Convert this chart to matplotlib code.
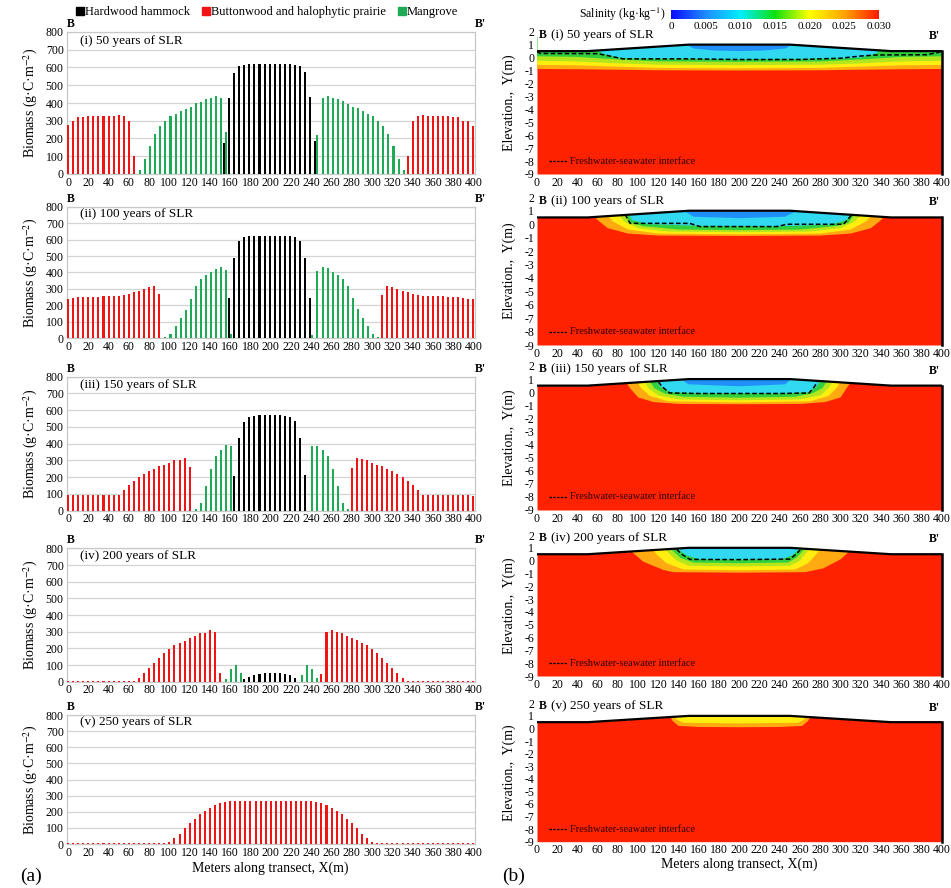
import numpy as np
import matplotlib
matplotlib.use('Agg')
import matplotlib.pyplot as plt
from matplotlib.colors import LinearSegmentedColormap, Normalize
from matplotlib.cm import ScalarMappable
from matplotlib.lines import Line2D

plt.rcParams['font.family'] = ['Liberation Serif', 'DejaVu Serif']
plt.rcParams['mathtext.fontset'] = 'stix'
plt.rcParams['axes.unicode_minus'] = False

# ---------------- DATA: biomass (g C m-2) at 5 m spacing, x = 0..400 ----------------
x_pos = np.arange(0, 401, 5)

hammock_i = [0,0,0,0,0,0,0,0,0,0, 0,0,0,0,0,0,0,0,0,0, 0,0,0,0,0,0,0,0,0,0,
             0,175,430,570,610,615,620,620,620,620, 620,620,620,620,620,615,610,575,435,185,
             0,0,0,0,0,0,0,0,0,0, 0,0,0,0,0,0,0,0,0,0, 0,0,0,0,0,0,0,0,0,0, 0]
button_i = [275,300,320,320,325,325,325,325,325,325, 330,325,300,100,0,0,0,0,0,0,
            0,0,0,0,0,0,0,0,0,0, 0,0,0,0,0,0,0,0,0,0, 0,0,0,0,0,0,0,0,0,0,
            0,0,0,0,0,0,0,0,0,0, 0,0,0,0,0,0,0,100,300,325,
            330,325,325,325,325,325,320,320,300,300, 270]
mangrove_i = [0,0,0,0,0,0,0,0,0,0, 0,0,0,0,20,85,160,225,270,300,
              325,340,355,365,380,400,405,420,430,440, 430,235,0,0,0,0,0,0,0,0,
              0,0,0,0,0,0,0,0,0,220, 430,440,430,420,410,395,380,370,355,340,
              325,300,270,225,160,85,20,0,0,0, 0,0,0,0,0,0,0,0,0,0, 0]

hammock_ii = [0,0,0,0,0,0,0,0,0,0, 0,0,0,0,0,0,0,0,0,0, 0,0,0,0,0,0,0,0,0,0,
              0,0,245,490,590,615,620,620,620,620, 620,620,620,620,620,615,590,490,245,0,
              0,0,0,0,0,0,0,0,0,0, 0,0,0,0,0,0,0,0,0,0, 0,0,0,0,0,0,0,0,0,0, 0]
button_ii = [240,245,250,250,250,250,250,255,255,255, 255,265,270,280,290,300,310,315,270,0,
             0,0,0,0,0,0,0,0,0,0, 0,0,0,0,0,0,0,0,0,0, 0,0,0,0,0,0,0,0,0,0,
             0,0,0,0,0,0,0,0,0,0, 0,0,265,315,310,300,290,280,270,265,
             260,255,255,255,255,250,250,250,245,240, 240]
mangrove_ii = [0,0,0,0,0,0,0,0,0,0, 0,0,0,0,0,0,0,0,0,5,
               25,75,125,175,240,315,360,385,405,420, 435,415,25,0,0,0,0,0,0,0,
               0,0,0,0,0,0,0,0,20,410, 435,425,400,385,360,315,245,180,125,75,
               25,5,0,0,0,0,0,0,0,0, 0,0,0,0,0,0,0,0,0,0, 0]

hammock_iii = [0,0,0,0,0,0,0,0,0,0, 0,0,0,0,0,0,0,0,0,0, 0,0,0,0,0,0,0,0,0,0,
               0,0,0,210,435,530,560,565,570,570, 570,570,570,565,560,535,435,215,0,0,
               0,0,0,0,0,0,0,0,0,0, 0,0,0,0,0,0,0,0,0,0, 0,0,0,0,0,0,0,0,0,0, 0]
button_iii = [95,95,95,95,95,95,95,95,95,95, 95,125,155,180,200,220,235,250,265,275,
              285,300,305,315,260,0,0,0,0,0, 0,0,0,0,0,0,0,0,0,0, 0,0,0,0,0,0,0,0,0,0,
              0,0,0,0,0,0,255,315,310,300, 285,275,265,250,235,220,200,180,155,125,
              95,95,95,95,95,95,95,95,95,95, 90]
mangrove_iii = [0,0,0,0,0,0,0,0,0,0, 0,0,0,0,0,0,0,0,0,0,
                0,0,0,0,0,10,45,150,250,325, 365,390,385,0,0,0,0,0,0,0,
                0,0,0,0,0,0,0,0,385,385, 365,325,250,150,45,10,0,0,0,0,
                0,0,0,0,0,0,0,0,0,0, 0,0,0,0,0,0,0,0,0,0, 0]

hammock_iv = [0,0,0,0,0,0,0,0,0,0, 0,0,0,0,0,0,0,0,0,0, 0,0,0,0,0,0,0,0,0,0,
              0,0,0,0,0,15,30,40,45,50, 50,50,50,45,40,20,0,0,0,0,
              0,0,0,0,0,0,0,0,0,0, 0,0,0,0,0,0,0,0,0,0, 0,0,0,0,0,0,0,0,0,0, 0]
button_iv = [5,5,5,5,5,5,5,5,5,5, 5,5,5,5,20,50,80,110,145,170,
             195,220,230,245,265,275,290,295,310,300, 50,0,0,0,0,0,0,0,0,0,
             0,0,0,0,0,0,0,0,0,0, 45,300,310,300,290,275,265,250,235,220,
             195,170,145,110,80,50,20,5,5,5, 5,5,5,5,5,5,5,5,5,5, 5]
mangrove_iv = [0,0,0,0,0,0,0,0,0,0, 0,0,0,0,0,0,0,0,0,0, 0,0,0,0,0,0,0,0,0,0,
               0,15,75,100,50,0,0,0,0,0, 0,0,0,0,0,0,40,100,75,25,
               0,0,0,0,0,0,0,0,0,0, 0,0,0,0,0,0,0,0,0,0, 0,0,0,0,0,0,0,0,0,0, 0]

hammock_v = [0,0,0,0,0,0,0,0,0,0, 0,0,0,0,0,0,0,0,0,0, 0,0,0,0,0,0,0,0,0,0,
             0,0,0,0,0,0,0,0,0,0, 0,0,0,0,0,0,0,0,0,0, 0,0,0,0,0,0,0,0,0,0,
             0,0,0,0,0,0,0,0,0,0, 0,0,0,0,0,0,0,0,0,0, 0]
button_v = [5,5,5,5,5,5,5,5,5,5, 5,5,5,5,5,5,5,5,5,5,
            10,35,65,100,130,155,185,205,225,240, 255,260,265,265,265,265,265,265,265,265,
            265,265,265,265,265,265,265,265,265,260, 255,240,225,205,185,155,130,100,65,35,
            10,5,5,5,5,5,5,5,5,5, 5,5,5,5,5,5,5,5,5,5, 5]
mangrove_v = [0,0,0,0,0,0,0,0,0,0, 0,0,0,0,0,0,0,0,0,0, 0,0,0,0,0,0,0,0,0,0,
              0,0,0,0,0,0,0,0,0,0, 0,0,0,0,0,0,0,0,0,0, 0,0,0,0,0,0,0,0,0,0,
              0,0,0,0,0,0,0,0,0,0, 0,0,0,0,0,0,0,0,0,0, 0]

panel_titles = ['(i) 50 years of SLR', '(ii) 100 years of SLR', '(iii) 150 years of SLR',
                '(iv) 200 years of SLR', '(v) 250 years of SLR']
series_names = ['Hardwood hammock', 'Buttonwood and halophytic prairie', 'Mangrove']

# ---------------- DATA: salinity cross-section ----------------
surf_x = [0, 50, 150, 250, 350, 400]
surf_z = [0.5, 0.5, 1.0, 1.0, 0.5, 0.5]

band_colors = ['#ffaa10', '#ffee10', '#b4e61e', '#30d040', '#30d8f0', '#2090f8']
# each band: (x list, bottom elevation list), order orange, yellow, yellow-green, green, cyan, blue
bands_i = [
    ([0, 40, 80, 120, 200, 280, 320, 360, 400], [-0.88, -0.9, -0.94, -0.98, -1.0, -0.98, -0.94, -0.9, -0.88]),
    ([0, 40, 80, 120, 200, 280, 320, 360, 400], [-0.57, -0.6, -0.7, -0.8, -0.83, -0.8, -0.7, -0.6, -0.57]),
    ([0, 40, 80, 120, 200, 280, 320, 360, 400], [-0.25, -0.3, -0.45, -0.55, -0.58, -0.55, -0.45, -0.3, -0.25]),
    ([0, 40, 80, 120, 200, 280, 320, 360, 400], [0.1, 0.05, -0.15, -0.3, -0.33, -0.3, -0.15, 0.05, 0.1]),
    ([55, 65, 80, 100, 200, 300, 320, 335, 345], [0.9, 0.3, 0.0, -0.08, -0.12, -0.08, 0.0, 0.3, 0.9]),
    ([140, 155, 175, 200, 225, 245, 260], [1.3, 0.7, 0.55, 0.5, 0.55, 0.7, 1.3]),
]
dash_i = ([0, 3, 60, 70, 85, 150, 200, 260, 300, 320, 335, 385, 397, 400],
          [0.45, 0.32, 0.3, 0.15, -0.1, -0.1, -0.15, -0.15, -0.05, 0.12, 0.2, 0.22, 0.4, 0.5])

bands_ii = [
    ([52, 60, 70, 90, 120, 200, 280, 310, 330, 340, 348], [1.0, 0.3, -0.3, -0.7, -0.85, -0.88, -0.85, -0.7, -0.3, 0.3, 1.0]),
    ([66, 75, 90, 120, 200, 280, 310, 325, 336], [1.0, 0.2, -0.4, -0.7, -0.75, -0.7, -0.4, 0.2, 1.0]),
    ([78, 86, 100, 130, 200, 270, 300, 314, 324], [1.0, 0.2, -0.3, -0.55, -0.6, -0.55, -0.3, 0.2, 1.0]),
    ([84, 92, 105, 140, 200, 260, 295, 308, 316], [1.0, 0.1, -0.15, -0.4, -0.45, -0.4, -0.15, 0.1, 1.0]),
    ([88, 94, 110, 160, 240, 290, 306, 313], [1.0, 0.3, 0.0, -0.12, -0.15, -0.05, 0.3, 1.0]),
    ([140, 155, 200, 245, 262], [1.2, 0.55, 0.45, 0.55, 1.2]),
]
dash_ii = ([87, 92, 151, 161, 237, 247, 303, 311], [0.73, 0.06, 0.06, -0.18, -0.18, -0.01, -0.01, 0.68])

bands_iii = [
    ([86, 92, 100, 115, 140, 200, 260, 285, 300, 306, 312], [1.0, 0.3, -0.4, -0.75, -0.9, -0.92, -0.9, -0.75, -0.4, 0.3, 1.0]),
    ([97, 103, 112, 130, 200, 270, 288, 296, 302], [1.0, 0.3, -0.3, -0.7, -0.78, -0.7, -0.3, 0.3, 1.0]),
    ([105, 110, 120, 140, 200, 260, 280, 288, 294], [1.0, 0.3, -0.25, -0.55, -0.62, -0.55, -0.25, 0.3, 1.0]),
    ([110, 116, 126, 145, 200, 255, 272, 282, 288], [1.0, 0.3, -0.1, -0.35, -0.42, -0.35, -0.1, 0.3, 1.0]),
    ([116, 122, 132, 160, 240, 268, 276, 282], [1.1, 0.4, 0.0, -0.08, -0.1, 0.0, 0.4, 1.1]),
    ([138, 150, 200, 245, 255], [1.2, 0.6, 0.45, 0.6, 1.2]),
]
dash_iii = ([120, 124, 131, 160, 240, 269, 274, 277], [0.78, 0.4, -0.06, -0.1, -0.1, -0.06, 0.4, 0.78])

bands_iv = [
    ([88, 95, 105, 125, 135, 200, 265, 283, 300, 307, 312], [1.1, 0.6, -0.08, -0.73, -0.9, -0.94, -0.9, -0.6, 0.1, 0.6, 1.1]),
    ([112, 118, 128, 145, 200, 255, 268, 276, 282], [1.1, 0.5, -0.2, -0.7, -0.75, -0.7, -0.2, 0.5, 1.1]),
    ([125, 130, 138, 150, 200, 250, 260, 266, 272], [1.1, 0.6, 0.0, -0.4, -0.45, -0.4, 0.0, 0.6, 1.1]),
    ([130, 135, 142, 155, 200, 248, 256, 262, 267], [1.1, 0.7, 0.2, -0.15, -0.2, -0.15, 0.2, 0.7, 1.1]),
    ([136, 141, 148, 160, 200, 242, 252, 258, 263], [1.1, 0.8, 0.4, 0.12, 0.08, 0.12, 0.4, 0.8, 1.1]),
]
dash_iv = ([138, 143, 151, 200, 250, 256, 260], [0.88, 0.5, 0.1, 0.08, 0.12, 0.5, 0.83])

bands_v = [
    ([130, 134, 140, 160, 200, 240, 262, 268, 272], [1.2, 0.6, 0.2, 0.12, 0.1, 0.12, 0.2, 0.6, 1.2]),
    ([134, 138, 145, 200, 258, 264, 268], [1.2, 0.7, 0.45, 0.4, 0.45, 0.7, 1.2]),
]
dash_v = None

sal_ticks = [0, 0.005, 0.010, 0.015, 0.020, 0.025, 0.030]
sal_ticklabels = ['0', '0.005', '0.010', '0.015', '0.020', '0.025', '0.030']
sal_colors = ['#0a0aff', '#1e8cff', '#00eeff', '#10e010', '#ffff00', '#ffa500', '#ff1a00']

# ---------------- FIGURE ----------------
W, H = 951, 888
fig = plt.figure(figsize=(W / 100, H / 100), dpi=100)

def fx(px):
    return px / W

def fy(py):
    return 1 - py / H

C_BLK, C_RED, C_GRN = '#000000', '#f01414', '#1faa55'
SEA_RED = '#ff2200'

left_rows = [(32, 174), (206.7, 338.3), (376.7, 510.7), (548.4, 681.7), (715, 844)]
right_rows = [(31.7, 174), (197.3, 345), (366, 510), (535, 676), (703.3, 841.7)]

biomass = [(hammock_i, button_i, mangrove_i), (hammock_ii, button_ii, mangrove_ii),
           (hammock_iii, button_iii, mangrove_iii), (hammock_iv, button_iv, mangrove_iv),
           (hammock_v, button_v, mangrove_v)]
sections = [(bands_i, dash_i), (bands_ii, dash_ii), (bands_iii, dash_iii),
            (bands_iv, dash_iv), (bands_v, dash_v)]

LX0, LX1 = 66.5, 475
for k, ((top, bot), (hm, bw, mg)) in enumerate(zip(left_rows, biomass)):
    ax = fig.add_axes([fx(LX0), fy(bot), fx(LX1 - LX0), (bot - top) / H])
    ax.bar(x_pos - 1.1, hm, width=2.0, color=C_BLK, lw=0, zorder=3, antialiased=False)
    ax.bar(x_pos, bw, width=2.0, color=C_RED, lw=0, zorder=3, antialiased=False)
    ax.bar(x_pos + 1.1, mg, width=2.0, color=C_GRN, lw=0, zorder=3, antialiased=False)
    ax.set_xlim(-1.5, 401.5)
    ax.set_ylim(0, 800)
    ax.set_yticks(range(0, 801, 100))
    ax.set_xticks(range(0, 401, 20))
    ax.yaxis.grid(True, color='#d4d4d4', lw=0.9, zorder=0)
    ax.set_axisbelow(True)
    for s in ax.spines.values():
        s.set_color('#c8c8c8')
        s.set_linewidth(0.9)
    ax.tick_params(length=0, labelsize=8.5, pad=2)
    ax.set_ylabel('Biomass (g·C·m$^{-2}$)', fontsize=10, labelpad=4)
    ax.text(12, 735, panel_titles[k], fontsize=9.5, zorder=5)
    ax.text(0.0, 1.015, 'B', transform=ax.transAxes, fontsize=8.5, fontweight='bold', ha='left', va='bottom')
    ax.text(1.0, 1.015, "B'", transform=ax.transAxes, fontsize=8.5, fontweight='bold', ha='left', va='bottom')
    if k == 4:
        ax.set_xlabel('Meters along transect, X(m)', fontsize=10, labelpad=2)

RX0, RX1 = 537, 941.7
for k, ((top, bot), (bands, dash)) in enumerate(zip(right_rows, sections)):
    ax = fig.add_axes([fx(RX0), fy(bot), fx(RX1 - RX0), (bot - top) / H])
    ax.fill_between(surf_x, -9, surf_z, color=SEA_RED, lw=0, zorder=1)
    for (bx, bz), col in zip(bands, band_colors):
        px = list(bx) + [bx[-1], bx[0]]
        pz = list(bz) + [1.6, 1.6]
        ax.fill(px, pz, color=col, lw=0, zorder=2)
    ax.fill_between(surf_x, surf_z, 2.4, color='white', lw=0, zorder=3)
    ax.plot(surf_x, surf_z, color='k', lw=1.6, zorder=5)
    ax.plot([400, 400], [-9, surf_z[-1]], color='k', lw=1.8, zorder=5, clip_on=False)
    if dash is not None:
        ax.plot(dash[0], dash[1], color='k', lw=1.1, ls=(0, (3, 1.6)), zorder=4)
    ax.set_xlim(0, 400)
    ax.set_ylim(-9, 2)
    ax.set_yticks(range(-9, 3))
    ax.set_xticks(range(0, 401, 20))
    for s in ax.spines.values():
        s.set_visible(False)
    ax.tick_params(length=0, labelsize=8.5, pad=2)
    ax.set_ylabel('Elevation.,  Y(m)', fontsize=10, labelpad=6)
    ax.plot([12, 30], [-8.0, -8.0], color='k', lw=0.9, ls=(0, (2, 1)), zorder=6)
    ax.text(33, -8.0, 'Freshwater-seawater interface', fontsize=7.5, color='#2a0000', va='center', zorder=6)
    ax.text(2, 1.75, 'B', fontsize=8.5, fontweight='bold', va='center', zorder=6)
    ax.text(14, 1.75, panel_titles[k], fontsize=9.5, va='center', zorder=6)
    ax.text(398, 1.65, "B'", fontsize=8.5, fontweight='bold', va='center', ha='right', zorder=6)
    if k == 4:
        ax.set_xlabel('Meters along transect, X(m)', fontsize=10, labelpad=1)

# colorbar
cmap = LinearSegmentedColormap.from_list('sal', list(zip(np.array(sal_ticks) / 0.03, sal_colors)))
cax = fig.add_axes([fx(671), fy(19), fx(208), 9 / H])
cb = fig.colorbar(ScalarMappable(norm=Normalize(0, 0.03), cmap=cmap), cax=cax, orientation='horizontal')
cb.set_ticks(sal_ticks)
cb.set_ticklabels(sal_ticklabels)
cb.outline.set_visible(False)
cax.tick_params(length=0, labelsize=8, pad=2)
fig.text(fx(666), fy(14), 'Salinity (kg·kg$^{-1}$)', fontsize=8.5, ha='right', va='center')

# legend
handles = [Line2D([], [], marker='s', ls='none', color=c, markersize=5.5) for c in (C_BLK, C_RED, C_GRN)]
fig.legend(handles, series_names, loc='center', bbox_to_anchor=(fx(267), fy(12)), ncol=3,
           frameon=False, fontsize=9, handlelength=0.6, handletextpad=0.1, columnspacing=1.0,
           borderpad=0)

fig.text(fx(20), fy(876), '(a)', fontsize=14, va='center')
fig.text(fx(502), fy(876), '(b)', fontsize=14, va='center')

fig.savefig('out.png', dpi=100)
